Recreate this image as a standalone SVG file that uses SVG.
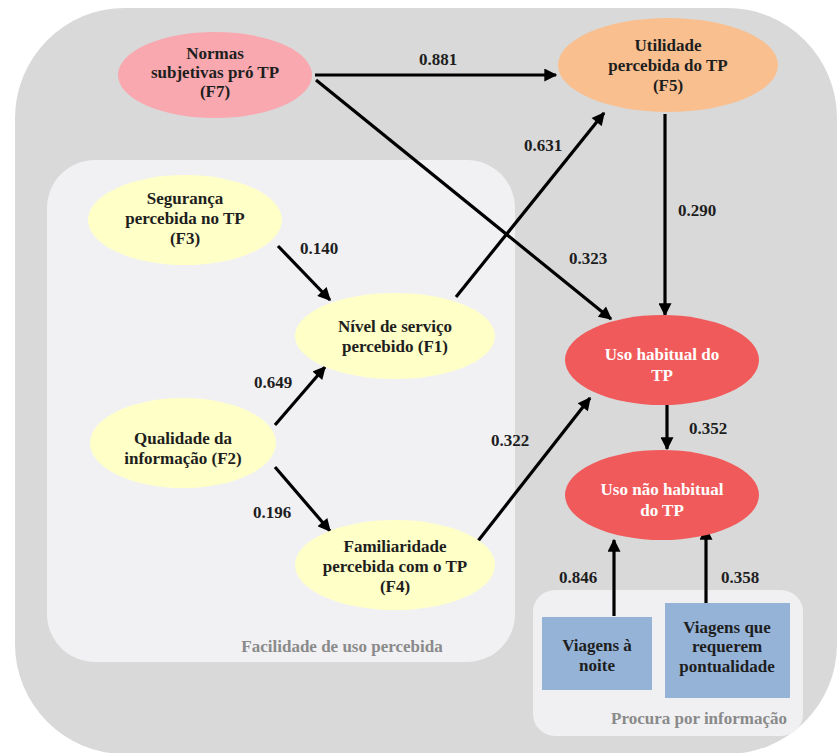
<svg xmlns="http://www.w3.org/2000/svg" width="839" height="753" viewBox="0 0 839 753">
  <style>
    .lbl { font-family: "Liberation Serif", Tinos, "Times New Roman", serif; font-weight: bold; font-size: 17px; fill: #1e1e1e; text-anchor: middle; }
    .wht { fill: #ffffff; }
    .cap { font-family: "Liberation Serif", Tinos, "Times New Roman", serif; font-weight: bold; font-size: 17px; fill: #8a8a8a; text-anchor: middle; }
    .coef { font-family: "Liberation Serif", Tinos, "Times New Roman", serif; font-weight: bold; font-size: 17px; fill: #1e1e1e; text-anchor: middle; }
    .edge { stroke: #000; stroke-width: 3.2; fill: none; marker-end: url(#ah); }
  </style>
  <defs>
    <marker id="ah" viewBox="0 0 10 10" refX="9" refY="5" markerWidth="15" markerHeight="13" markerUnits="userSpaceOnUse" orient="auto">
      <path d="M0,0 L10,5 L0,10 Z" fill="#000"/>
    </marker>
  </defs>

  <rect width="839" height="753" fill="#ffffff"/>
  <!-- outer container -->
  <rect x="15" y="8" width="822" height="746" rx="110" fill="#d9d9d9"/>
  <!-- perceived ease of use panel -->
  <g id="panel-facilidade">
    <rect x="47" y="160" width="468" height="502" rx="48" fill="#f1f1f3"/>
    <text class="cap" x="342" y="652">Facilidade de uso percebida</text>
  </g>
  <!-- information search panel -->
  <g id="panel-procura">
    <rect x="533" y="590" width="270" height="146" rx="22" fill="#f0f0f2"/>
    <text class="cap" x="699" y="724">Procura por informação</text>
  </g>

  <g id="connectors">
    <line class="edge" x1="315" y1="75" x2="556" y2="75"/>
    <line class="edge" x1="316" y1="80" x2="611" y2="319"/>
    <line class="edge" x1="456" y1="297" x2="604" y2="113"/>
    <line class="edge" x1="665" y1="114" x2="665" y2="315"/>
    <line class="edge" x1="278" y1="246" x2="330" y2="300"/>
    <line class="edge" x1="275" y1="425" x2="325" y2="367"/>
    <line class="edge" x1="275" y1="467" x2="330" y2="531"/>
    <line class="edge" x1="478" y1="541" x2="590" y2="398"/>
    <line class="edge" x1="667" y1="405" x2="667" y2="449"/>
    <line class="edge" x1="614" y1="616" x2="614" y2="540"/>
    <line class="edge" x1="706" y1="604" x2="706" y2="528"/>

    <text class="coef" x="438" y="65">0.881</text>
    <text class="coef" x="588" y="264">0.323</text>
    <text class="coef" x="543" y="151">0.631</text>
    <text class="coef" x="697" y="216">0.290</text>
    <text class="coef" x="319" y="254">0.140</text>
    <text class="coef" x="273" y="388">0.649</text>
    <text class="coef" x="272" y="518">0.196</text>
    <text class="coef" x="510" y="446">0.322</text>
    <text class="coef" x="708" y="434">0.352</text>
    <text class="coef" x="578" y="583">0.846</text>
    <text class="coef" x="740" y="583">0.358</text>
  </g>

  <g id="F7">
    <ellipse cx="215" cy="75" rx="97" ry="43" fill="#f8a8ae"/>
    <text class="lbl" x="215" y="59">Normas</text>
    <text class="lbl" x="215" y="78">subjetivas pró TP</text>
    <text class="lbl" x="215" y="97">(F7)</text>
  </g>
  <g id="F5">
    <ellipse cx="668" cy="65" rx="110" ry="47" fill="#f9bf8f"/>
    <text class="lbl" x="668" y="51">Utilidade</text>
    <text class="lbl" x="668" y="71">percebida do TP</text>
    <text class="lbl" x="668" y="91">(F5)</text>
  </g>
  <g id="F3">
    <ellipse cx="185" cy="220" rx="97" ry="45" fill="#ffffc8"/>
    <text class="lbl" x="185" y="204">Segurança</text>
    <text class="lbl" x="185" y="224">percebida no TP</text>
    <text class="lbl" x="185" y="244">(F3)</text>
  </g>
  <g id="F1">
    <ellipse cx="395" cy="336" rx="100" ry="43" fill="#ffffc8"/>
    <text class="lbl" x="395" y="332">Nível de serviço</text>
    <text class="lbl" x="395" y="352">percebido (F1)</text>
  </g>
  <g id="F2">
    <ellipse cx="183" cy="443" rx="93" ry="45" fill="#ffffc8"/>
    <text class="lbl" x="183" y="444">Qualidade da</text>
    <text class="lbl" x="183" y="464">informação (F2)</text>
  </g>
  <g id="F4">
    <ellipse cx="395" cy="565" rx="100" ry="45" fill="#ffffc8"/>
    <text class="lbl" x="395" y="552">Familiaridade</text>
    <text class="lbl" x="395" y="572">percebida com o TP</text>
    <text class="lbl" x="395" y="592">(F4)</text>
  </g>
  <g id="uso-habitual">
    <ellipse cx="662" cy="360" rx="97" ry="45" fill="#f05a5a"/>
    <text class="lbl wht" x="662" y="360">Uso habitual do</text>
    <text class="lbl wht" x="662" y="381">TP</text>
  </g>
  <g id="uso-nao-habitual">
    <ellipse cx="662" cy="495" rx="97" ry="45" fill="#f05a5a"/>
    <text class="lbl wht" x="662" y="495">Uso não habitual</text>
    <text class="lbl wht" x="662" y="516">do TP</text>
  </g>
  <g id="viagens-noite">
    <rect x="542" y="617" width="110" height="73" fill="#95b3d7"/>
    <text class="lbl" x="597" y="651">Viagens à</text>
    <text class="lbl" x="597" y="671">noite</text>
  </g>
  <g id="viagens-pontualidade">
    <rect x="665" y="603" width="125" height="95" fill="#95b3d7"/>
    <text class="lbl" x="727" y="633">Viagens que</text>
    <text class="lbl" x="727" y="652">requerem</text>
    <text class="lbl" x="727" y="672">pontualidade</text>
  </g>
</svg>
